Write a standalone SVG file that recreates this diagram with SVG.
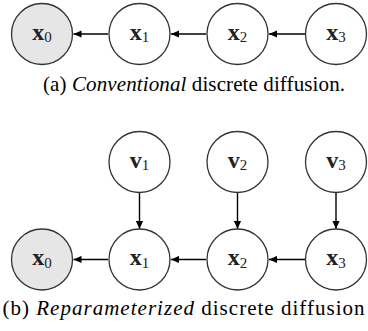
<svg xmlns="http://www.w3.org/2000/svg" width="368" height="331" viewBox="0 0 368 331">
<defs>
<marker id="ah" viewBox="0 0 10 10" refX="10" refY="5" markerWidth="8" markerHeight="8" markerUnits="userSpaceOnUse" orient="auto">
<path d="M0,0.5 L10,5 L0,9.5 z" fill="#000"/>
</marker>
<style>
.n{fill:#fff;stroke:#333;stroke-width:1.3}
.g{fill:#e6e6e6}
.lbl{font-size:24px;font-weight:bold;fill:#222;text-anchor:middle}
.sub{font-weight:normal;font-size:15px}
.e{stroke:#000;stroke-width:1.4;fill:none;marker-end:url(#ah)}
.cap{font-size:21px;fill:#000;text-anchor:middle}
</style>
</defs>
<g id="connectors">
<line class="e" x1="108" y1="34" x2="73.5" y2="34"/>
<line class="e" x1="206" y1="34" x2="171" y2="34"/>
<line class="e" x1="305" y1="34" x2="269" y2="34"/>
<line class="e" x1="139.5" y1="192.5" x2="139.5" y2="229"/>
<line class="e" x1="237.5" y1="192.5" x2="237.5" y2="229"/>
<line class="e" x1="336" y1="192.5" x2="336" y2="229"/>
<line class="e" x1="108" y1="259.5" x2="73.5" y2="259.5"/>
<line class="e" x1="206" y1="259.5" x2="171" y2="259.5"/>
<line class="e" x1="305" y1="259.5" x2="269" y2="259.5"/>
</g>
<g font-family="'Liberation Serif', 'DejaVu Serif', serif">
<g id="a_x0"><circle class="n g" cx="42" cy="34" r="30.5"/><text class="lbl" x="42" y="39.5">x<tspan class="sub" dy="2.5">0</tspan></text></g>
<g id="a_x1"><circle class="n" cx="139.5" cy="34" r="30.5"/><text class="lbl" x="139.5" y="39.5">x<tspan class="sub" dy="2.5">1</tspan></text></g>
<g id="a_x2"><circle class="n" cx="237.5" cy="34" r="30.5"/><text class="lbl" x="237.5" y="39.5">x<tspan class="sub" dy="2.5">2</tspan></text></g>
<g id="a_x3"><circle class="n" cx="336" cy="34" r="30.5"/><text class="lbl" x="336" y="39.5">x<tspan class="sub" dy="2.5">3</tspan></text></g>
<text id="cap_a" class="cap" x="194" y="91" textLength="302">(a) <tspan font-style="italic">Conventional</tspan> discrete diffusion.</text>
<g id="v1"><circle class="n" cx="139.5" cy="162" r="30.5"/><text class="lbl" x="139.5" y="167.5">v<tspan class="sub" dy="2.5">1</tspan></text></g>
<g id="v2"><circle class="n" cx="237.5" cy="162" r="30.5"/><text class="lbl" x="237.5" y="167.5">v<tspan class="sub" dy="2.5">2</tspan></text></g>
<g id="v3"><circle class="n" cx="336" cy="162" r="30.5"/><text class="lbl" x="336" y="167.5">v<tspan class="sub" dy="2.5">3</tspan></text></g>
<g id="b_x0"><circle class="n g" cx="42" cy="259.5" r="30.5"/><text class="lbl" x="42" y="265">x<tspan class="sub" dy="2.5">0</tspan></text></g>
<g id="b_x1"><circle class="n" cx="139.5" cy="259.5" r="30.5"/><text class="lbl" x="139.5" y="265">x<tspan class="sub" dy="2.5">1</tspan></text></g>
<g id="b_x2"><circle class="n" cx="237.5" cy="259.5" r="30.5"/><text class="lbl" x="237.5" y="265">x<tspan class="sub" dy="2.5">2</tspan></text></g>
<g id="b_x3"><circle class="n" cx="336" cy="259.5" r="30.5"/><text class="lbl" x="336" y="265">x<tspan class="sub" dy="2.5">3</tspan></text></g>
<text id="cap_b" class="cap" x="183.5" y="315" textLength="362">(b) <tspan font-style="italic">Reparameterized</tspan> discrete diffusion</text>
</g>
</svg>
